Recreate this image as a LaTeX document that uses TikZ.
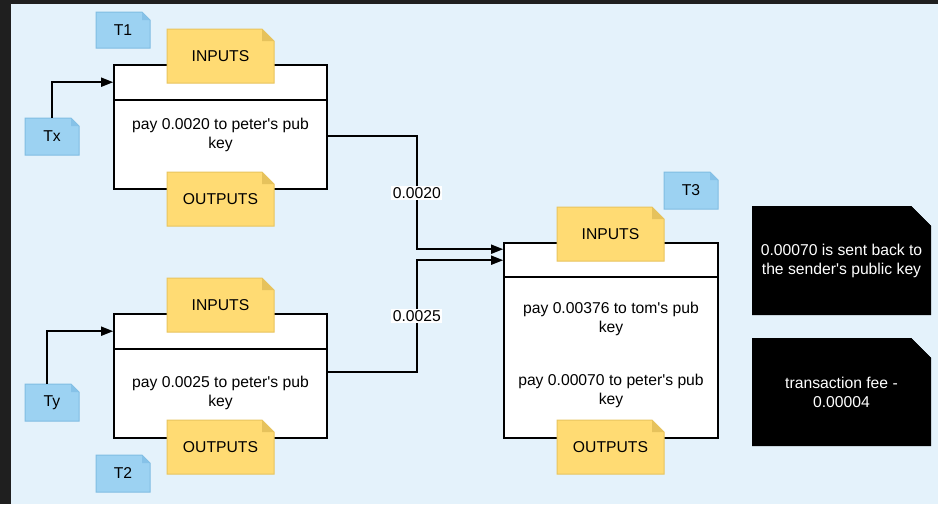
\documentclass[tikz,border=0pt]{standalone}
\usepackage{fontspec}
\setmainfont{Liberation Sans}[Ligatures=TeXOff]
\usetikzlibrary{arrows.meta}
\definecolor{bgblue}{HTML}{E4F2FB}
\definecolor{darkframe}{HTML}{1F1F1F}
\definecolor{noteblue}{HTML}{9CD2F2}
\definecolor{noteblueline}{HTML}{80BDE2}
\definecolor{notebluefold}{HTML}{86C2E8}
\definecolor{noteyellow}{HTML}{FFDB73}
\definecolor{noteyellowline}{HTML}{E8C45E}
\definecolor{noteyellowfold}{HTML}{E6C25C}
\newcommand\notenode[8]{%
  \path[#1] (#4,#5) -- ({#6-#2},#5) -- (#6,{#5+#2}) -- (#6,#7) -- (#4,#7) -- cycle;
  \path[#1fold] ({#6-#2},#5) -- ({#6-#2},{#5+#2}) -- (#6,{#5+#2}) -- cycle;
  \node[notetext,#1text,minimum width={(#6-#4)*1pt},minimum height={(#7-#5)*1pt}] (#3) at ({(#4+#6)/2},{(#5+#7)/2}) {#8};
}
\begin{document}
\begin{tikzpicture}[x=1pt,y=-1pt,
  every node/.style={font=\fontsize{15.7}{19}\selectfont},
  noteb/.style={fill=noteblue,draw=noteblueline,line width=1pt},
  notebfold/.style={fill=notebluefold},
  notebtext/.style={},
  notey/.style={fill=noteyellow,draw=noteyellowline,line width=1pt},
  noteyfold/.style={fill=noteyellowfold},
  noteytext/.style={},
  notek/.style={fill=black},
  notekfold/.style={fill=black},
  notektext/.style={text=white},
  notetext/.style={align=center,inner sep=0pt},
  txbox/.style={draw=black,fill=white,line width=1.6pt,inner sep=0pt},
  divider/.style={draw=black,line width=1.6pt},
  boxtext/.style={align=center,inner sep=0pt},
  conn/.style={draw=black,line width=1.6pt,-{Triangle[length=12pt,width=9pt]}},
  lbl/.style={fill=white,inner sep=1.5pt}]
\useasboundingbox (0,0) rectangle (938,504);
\fill[darkframe] (0,0) rectangle (938,504);
\fill[bgblue] (11,4) rectangle (938,504);

% transaction boxes
\node[txbox,minimum width=213pt,minimum height=124pt] (b1) at (220.5,127) {};
\node[txbox,minimum width=213pt,minimum height=124pt] (b2) at (220.5,376) {};
\node[txbox,minimum width=214pt,minimum height=195pt] (b3) at (611,340.5) {};
\draw[divider] ([yshift=-36]b1.north west) -- ([yshift=-36]b1.north east);
\draw[divider] ([yshift=-36]b2.north west) -- ([yshift=-36]b2.north east);
\draw[divider] ([yshift=-35]b3.north west) -- ([yshift=-35]b3.north east);

\node[boxtext] (t1body) at (220.5,134.5) {pay 0.0020 to peter's pub\\key};
\node[boxtext] (t2body) at (220.5,392.5) {pay 0.0025 to peter's pub\\key};
\node[boxtext] (t3body1) at (611,318.5) {pay 0.00376 to tom's pub\\key};
\node[boxtext] (t3body2) at (611,390.5) {pay 0.00070 to peter's pub\\key};

% notes
\notenode{noteb}{8}{t1}{96}{12}{150}{48}{T1}
\notenode{noteb}{8}{tx}{25}{118}{79}{155}{Tx}
\notenode{noteb}{8}{ty}{25}{384}{79}{421}{Ty}
\notenode{noteb}{8}{t2}{96}{455}{150}{492}{T2}
\notenode{noteb}{8}{t3}{664}{172}{718}{209}{T3}
\notenode{notey}{12}{in1}{167}{29}{274}{83}{INPUTS}
\notenode{notey}{12}{out1}{167}{172}{274}{226}{OUTPUTS}
\notenode{notey}{12}{in2}{167}{278}{274}{332}{INPUTS}
\notenode{notey}{12}{out2}{167}{420}{274}{474}{OUTPUTS}
\notenode{notey}{12}{in3}{557}{207}{664}{261}{INPUTS}
\notenode{notey}{12}{out3}{557}{420}{664}{474}{OUTPUTS}
\notenode{notek}{20}{change}{752}{206}{931}{315}{0.00070 is sent back to\\the sender's public key}
\notenode{notek}{20}{fee}{752}{338}{931}{446}{transaction fee -\\0.00004}

% connectors
\draw[conn] (tx.north) |- ([yshift=-18]b1.north west);
\draw[conn] ([xshift=-5pt]ty.north) |- ([yshift=-18]b2.north west);
\draw[conn] ([yshift=-72]b1.north east) -- ++(89,0) |- node[lbl,pos=0.25] {0.0020} ([yshift=-7]b3.north west);
\draw[conn] ([yshift=-59]b2.north east) -- ++(89,0) |- node[lbl,pos=0.25] {0.0025} ([yshift=-18]b3.north west);
\end{tikzpicture}
\end{document}
